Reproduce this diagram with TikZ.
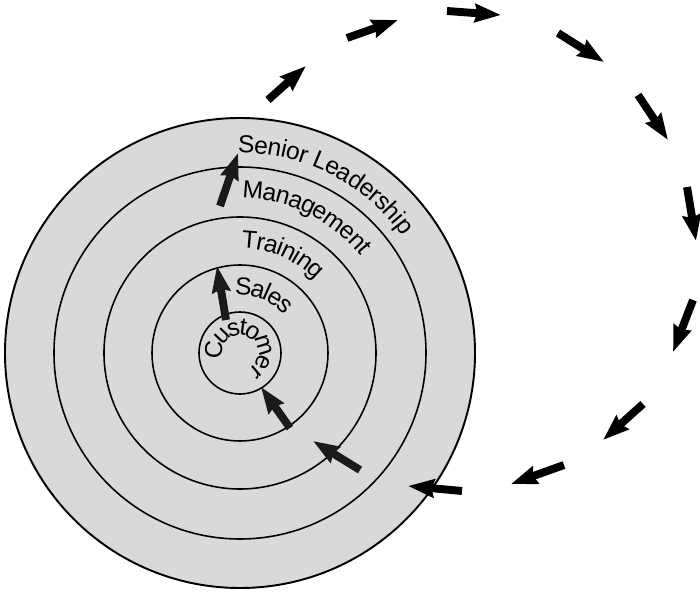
\documentclass[tikz,border=0pt]{standalone}
\usepackage{fontspec}
\setmainfont{Liberation Sans}
\usetikzlibrary{arrows.meta, decorations.text}
\definecolor{ringgray}{RGB}{217,217,217}
\definecolor{flowdark}{RGB}{26,26,26}
\newcommand{\ringfont}{\fontsize{14}{17}\selectfont}

\begin{document}
\begin{tikzpicture}[
    x=0.02cm, y=0.02cm,
    ring/.style={draw, line width=0.9pt},
    ringlabel/.style={decorate, decoration={text along path, text align=left, raise=-0.18cm, text={|\ringfont|#1}}},
    flow/.style={line width=4.5pt, -{Stealth[length=0.52cm, width=0.36cm, inset=0.05cm]}},
]
    \useasboundingbox (-240,-239) rectangle (460,353);
    \coordinate (ctr) at (0,0);

    % rings, outermost first
    \filldraw[ring, fill=ringgray, line width=1.1pt] (ctr) circle[radius=235];
    \foreach \r in {186,136,88,41}
        \draw[ring] (ctr) circle[radius=\r];

    % ring names
    \path[ringlabel=Senior Leadership] (90.5:209) arc[start angle=90.5, end angle=0, radius=209];
    \path[ringlabel=Management] (89:164) arc[start angle=89, end angle=0, radius=164];
    \path[ringlabel=Training] (89:114) arc[start angle=89, end angle=0, radius=114];
    \path[ringlabel=Sales] (94:67) arc[start angle=94, end angle=0, radius=67];
    \path[ringlabel=Customer, decoration={raise=-0.12cm}] (195:24) arc[start angle=195, end angle=-150, radius=24];

    % outer loop of arrows
    \foreach [count=\i] \sx/\sy/\ex/\ey in {28/253/66/287, 107/315/158/333, 207/342/261/338,
        318/320/364/291, 398/258/428/213, 447/166/456/112, 453/53/433/1,
        403/-51/363/-87, 324/-112/271/-131, 222/-138/168/-133} {
        \coordinate (loop\i a) at (\sx,\sy);
        \coordinate (loop\i b) at (\ex,\ey);
        \draw[flow] (loop\i a) -- (loop\i b);
    }

    % arrows through the rings
    \foreach [count=\i] \sx/\sy/\ex/\ey in {120/-117/73/-88, 50/-75/21/-34,
        -14/33/-23/87, -20/147/-2/200} {
        \coordinate (step\i a) at (\sx,\sy);
        \coordinate (step\i b) at (\ex,\ey);
        \draw[flow, flowdark] (step\i a) -- (step\i b);
    }
\end{tikzpicture}
\end{document}
